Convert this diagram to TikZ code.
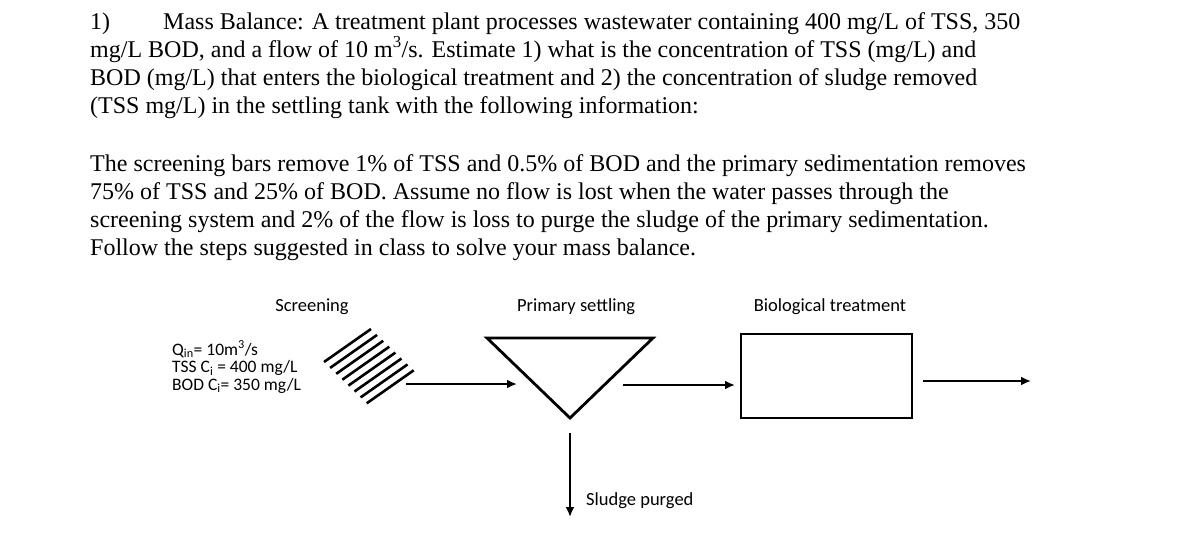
\documentclass[tikz,border=0pt]{standalone}
\usepackage{fontspec}
\setmainfont{Liberation Serif}
\newfontfamily\lab{Carlito}
\usetikzlibrary{arrows.meta}
\begin{document}
\begin{tikzpicture}[x=1pt,y=-1pt,
  para/.style={anchor=base west,inner sep=0pt,font=\fontsize{24}{28}\selectfont},
  lbl/.style={inner sep=0pt,font=\lab\fontsize{18.5}{21}\selectfont},
  flow/.style={line width=2.6pt,-{Latex[length=10pt,width=9pt]}},
  unit/.style={line width=2.8pt}]
\useasboundingbox (0,0) rectangle (1179,539);
\node[para] (l1) at (90,29) {1)};
\node[para] (l1b) at (163,29) {Mass Balance: A treatment plant processes wastewater containing 400 mg/L of TSS, 350};
\node[para] (l2) at (90,57) {mg/L BOD, and a flow of 10 m\textsuperscript{3}/s. Estimate 1) what is the concentration of TSS (mg/L) and};
\node[para] (l3) at (90,85) {BOD (mg/L) that enters the biological treatment and 2) the concentration of sludge removed};
\node[para] (l4) at (90,113) {(TSS mg/L) in the settling tank with the following information:};
\node[para] (p1) at (90,171) {The screening bars remove 1\% of TSS and 0.5\% of BOD and the primary sedimentation removes};
\node[para] (p2) at (90,199) {75\% of TSS and 25\% of BOD. Assume no flow is lost when the water passes through the};
\node[para] (p3) at (90,227) {screening system and 2\% of the flow is loss to purge the sludge of the primary sedimentation.};
\node[para] (p4) at (90,255) {Follow the steps suggested in class to solve your mass balance.};

\node[lbl] (ts) at (312,307) {Screening};
\node[lbl] (tp) at (576,307) {Primary settling};
\node[lbl] (tb) at (830,307) {Biological treatment};
\node[lbl,anchor=west,align=left,font=\lab\fontsize{17.5}{17.5}\selectfont] (q) at (172,367)
  {Q\textsubscript{in}= 10m\textsuperscript{3}/s\\TSS C\textsubscript{i} = 400 mg/L\\BOD C\textsubscript{i}= 350 mg/L};

\foreach \i in {0,...,7}
  \draw[line width=2.6pt] ({324+6.1*\i},{362+5.9*\i}) -- ++(47,-33);
\coordinate (s) at (406,384);

\draw[unit,line join=miter] (487,338) -- (653,338) -- (570,418) -- cycle;
\coordinate (tin) at (517,384);
\coordinate (tout) at (623,385);
\coordinate (tbot) at (570,433);
\node[draw,unit,minimum width=171pt,minimum height=84pt,inner sep=0pt] (bio) at (826.5,376) {};
\coordinate (end) at (1031,381);
\coordinate (sl) at (570,517);
\node[lbl,anchor=west] (sp) at (586,501) {Sludge purged};

\draw[flow] (s) -- (tin);
\draw[flow] (tout) -- (735,385);
\draw[flow] ([xshift=10pt]bio.east |- end) -- (end);
\draw[flow] (tbot) -- (sl);
\end{tikzpicture}
\end{document}
